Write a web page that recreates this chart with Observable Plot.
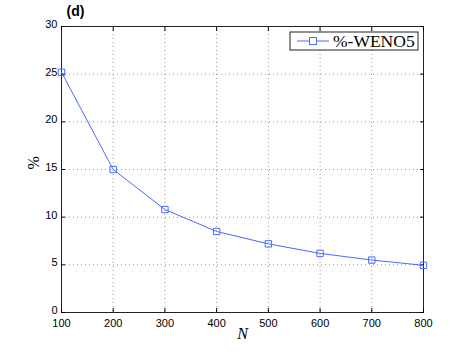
<!DOCTYPE html>
<html><head><meta charset="utf-8">
<script src="https://cdn.jsdelivr.net/npm/d3@7"></script>
<script src="https://cdn.jsdelivr.net/npm/@observablehq/plot@0.6"></script>
<style>body{margin:0;background:#fff}</style>
</head><body><div id="chart"></div>
<script>
const N = [100, 200, 300, 400, 500, 600, 700, 800];
const pct = [25.2, 15.0, 10.8, 8.5, 7.2, 6.2, 5.5, 4.95];
const xTicks = [100, 200, 300, 400, 500, 600, 700, 800];
const yTicks = [0, 5, 10, 15, 20, 25, 30];
const seriesName = "%-WENO5";
const panelTitle = "(d)";

const data = N.map((n, i) => ({N: n, v: pct[i]}));
const color = "#4a6bff";
const serif = "'Liberation Serif', 'DejaVu Serif', serif";
const sans = "'Liberation Sans', Arial, sans-serif";

const chart = Plot.plot({
  width: 467, height: 352,
  marginLeft: 61, marginRight: 44, marginTop: 26, marginBottom: 40,
  style: {fontFamily: sans, fontSize: "11px", color: "#000", background: "#fff"},
  x: {domain: [100, 800], ticks: xTicks},
  y: {domain: [0, 30], ticks: yTicks},
  marks: [
    Plot.gridX(xTicks, {stroke: "#777", strokeOpacity: 0.8, strokeDasharray: "1,3"}),
    Plot.gridY(yTicks, {stroke: "#777", strokeOpacity: 0.8, strokeDasharray: "1,3"}),
    Plot.frame({stroke: "#222", strokeWidth: 1}),
    Plot.axisX(xTicks, {anchor: "bottom", tickSize: -4, tickPadding: 11, label: null, fontSize: 11}),
    Plot.axisX(xTicks, {anchor: "top", tickSize: -4, tickFormat: () => "", label: null}),
    Plot.axisY(yTicks, {anchor: "left", tickSize: -4, tickFormat: () => "", label: null}),
    Plot.text(yTicks, {y: d => d, frameAnchor: "left", dx: -4, dy: -2, textAnchor: "end", text: d => String(d), fontSize: 11}),
    Plot.axisY(yTicks, {anchor: "right", tickSize: -4, tickFormat: () => "", label: null}),
    Plot.line(data, {x: "N", y: "v", stroke: color, strokeWidth: 1}),
    Plot.dot(data, {x: "N", y: "v", symbol: "square", r: 3.6, stroke: color, fill: "none", strokeWidth: 1}),
    Plot.text([panelTitle], {frameAnchor: "top-left", dx: 5, dy: -20, text: d => d, fontWeight: "bold", fontSize: 14, fontFamily: sans, textAnchor: "start"}),
    Plot.text(["N"], {frameAnchor: "bottom", dy: 26, text: d => d, fontStyle: "italic", fontSize: 16, fontFamily: serif}),
    Plot.text(["%"], {frameAnchor: "left", dx: -28, rotate: -90, text: d => d, fontSize: 16, fontFamily: serif})
  ]
});
document.getElementById("chart").appendChild(chart);

// legend box
const svg = d3.select(chart.tagName.toLowerCase() === "svg" ? chart : chart.querySelector("svg"));
const lg = svg.append("g").attr("transform", "translate(290,32)");
lg.append("rect").attr("width", 128).attr("height", 18).attr("fill", "#fff").attr("stroke", "#222");
lg.append("line").attr("x1", 7).attr("x2", 39).attr("y1", 9).attr("y2", 9).attr("stroke", color).attr("stroke-width", 1);
lg.append("rect").attr("x", 19.5).attr("y", 5.5).attr("width", 7).attr("height", 7).attr("fill", "#fff").attr("stroke", color);
lg.append("text").attr("x", 43).attr("y", 15).attr("text-anchor", "start").attr("fill", "#000")
  .attr("font-family", serif).attr("font-size", 17.5).text(seriesName);
</script>
</body></html>
